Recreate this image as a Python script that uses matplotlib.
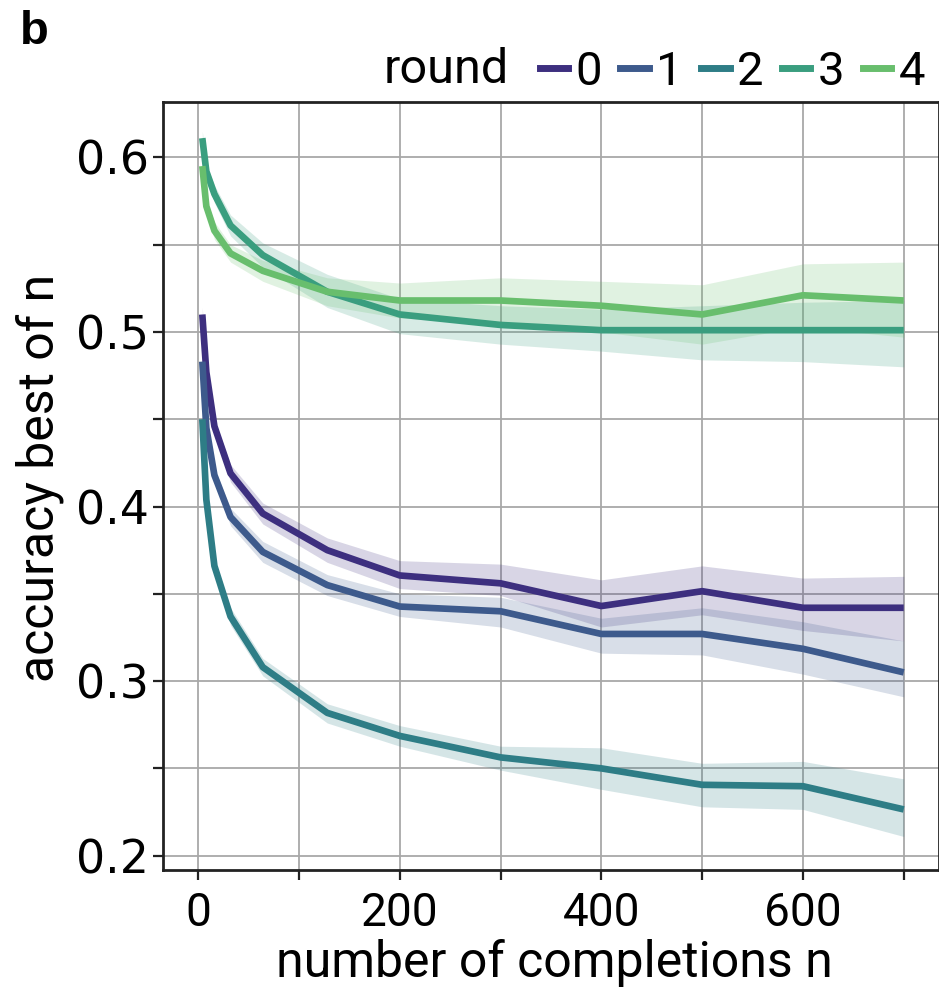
import matplotlib
matplotlib.use("Agg")
import matplotlib.pyplot as plt
from matplotlib.ticker import MultipleLocator, FormatStrFormatter
from matplotlib.lines import Line2D

plt.rcParams['font.family'] = ['Roboto', 'DejaVu Sans']

# ---- data ----
n_values = [4, 8, 16, 32, 64, 128, 200, 300, 400, 500, 600, 700]
rounds = ["0", "1", "2", "3", "4"]

acc_round0 = [0.510, 0.477, 0.446, 0.419, 0.396, 0.375, 0.3605, 0.356, 0.343, 0.3515, 0.342, 0.342]
acc_round1 = [0.483, 0.445, 0.418, 0.394, 0.374, 0.355, 0.3427, 0.340, 0.327, 0.327, 0.3185, 0.305]
acc_round2 = [0.450, 0.404, 0.366, 0.337, 0.308, 0.2818, 0.2686, 0.2563, 0.250, 0.2406, 0.2398, 0.2265]
acc_round3 = [0.611, 0.592, 0.579, 0.561, 0.544, 0.523, 0.510, 0.504, 0.501, 0.501, 0.501, 0.501]
acc_round4 = [0.595, 0.572, 0.558, 0.545, 0.535, 0.523, 0.518, 0.518, 0.515, 0.510, 0.521, 0.518]

low_round0 = [0.506, 0.473, 0.442, 0.414, 0.390, 0.368, 0.353, 0.349, 0.331, 0.338, 0.329, 0.323]
up_round0 = [0.514, 0.481, 0.450, 0.424, 0.402, 0.382, 0.369, 0.367, 0.358, 0.366, 0.359, 0.360]
low_round1 = [0.479, 0.441, 0.414, 0.389, 0.368, 0.349, 0.337, 0.331, 0.316, 0.315, 0.304, 0.291]
up_round1 = [0.487, 0.449, 0.422, 0.399, 0.380, 0.361, 0.350, 0.348, 0.336, 0.342, 0.334, 0.323]
low_round2 = [0.446, 0.400, 0.362, 0.332, 0.303, 0.276, 0.2627, 0.249, 0.238, 0.228, 0.2265, 0.211]
up_round2 = [0.454, 0.408, 0.370, 0.342, 0.313, 0.287, 0.2745, 0.2627, 0.2618, 0.2529, 0.254, 0.244]
low_round3 = [0.607, 0.588, 0.574, 0.555, 0.537, 0.514, 0.499, 0.493, 0.489, 0.484, 0.483, 0.480]
up_round3 = [0.615, 0.596, 0.584, 0.567, 0.551, 0.533, 0.519, 0.515, 0.513, 0.515, 0.517, 0.518]
low_round4 = [0.591, 0.568, 0.553, 0.540, 0.529, 0.515, 0.508, 0.505, 0.500, 0.493, 0.503, 0.497]
up_round4 = [0.599, 0.576, 0.563, 0.550, 0.541, 0.531, 0.528, 0.531, 0.529, 0.527, 0.539, 0.540]

means = [acc_round0, acc_round1, acc_round2, acc_round3, acc_round4]
lows = [low_round0, low_round1, low_round2, low_round3, low_round4]
ups = [up_round0, up_round1, up_round2, up_round3, up_round4]

x_ticks = [0, 200, 400, 600]
y_ticks = [0.2, 0.3, 0.4, 0.5, 0.6]

colors = ['#3d2f7f', '#3d5a8c', '#2e7d86', '#3a9e7f', '#68be6d']

# ---- plot ----
fig = plt.figure(figsize=(9.39, 9.94), dpi=100)
ax = fig.add_axes([163 / 939, 1 - 870 / 994, (939 - 163) / 939, (870 - 102) / 994])

for i, r in enumerate(rounds):
    ax.fill_between(n_values, lows[i], ups[i], color=colors[i], alpha=0.2, lw=0)
    ax.plot(n_values, means[i], color=colors[i], lw=4.8, solid_capstyle='butt')

ax.set_xlim(-35, 735)
ax.set_ylim(0.1918, 0.6317)
ax.set_xticks(x_ticks)
ax.set_yticks(y_ticks)
ax.yaxis.set_major_formatter(FormatStrFormatter('%.1f'))
ax.xaxis.set_minor_locator(MultipleLocator(100))
ax.yaxis.set_minor_locator(MultipleLocator(0.05))
ax.set_axisbelow(True)
ax.grid(True, which='both', color='#a8a8a8', lw=1.3)

ax.tick_params(axis='both', which='both', length=7, width=1.6, color='#222222')
ax.tick_params(axis='x', labelsize=33, pad=8)
ax.tick_params(axis='y', labelsize=33, pad=3)
for lbl in ax.get_yticklabels():
    lbl.set_family('DejaVu Sans')
    lbl.set_fontsize(33)

for sp in ax.spines.values():
    sp.set_linewidth(2.0)
    sp.set_color('#222222')

ax.set_xlabel("number of completions n", fontsize=36)
ax.set_ylabel("accuracy best of n", fontsize=36)
ax.xaxis.set_label_coords(0.504, -0.09)
ax.yaxis.set_label_coords(-0.128, 0.51)

handles = [Line2D([], [], color=colors[i], lw=5) for i in range(5)]
leg = fig.legend(handles, rounds, loc='center right',
                 bbox_to_anchor=(925 / 939, 1 - 72 / 994),
                 ncol=5, frameon=False, fontsize=34,
                 handlelength=0.6, handletextpad=0.15, columnspacing=0.4,
                 borderpad=0, borderaxespad=0)
fig.text(509 / 939, 1 - 70 / 994, "round", fontsize=35, ha='right', va='center')
fig.text(20 / 939, 1 - 32 / 994, "b", fontsize=34, weight='bold', ha='left', va='center',
         family=['Liberation Sans', 'DejaVu Sans'])

fig.savefig("out.png", dpi=100)
